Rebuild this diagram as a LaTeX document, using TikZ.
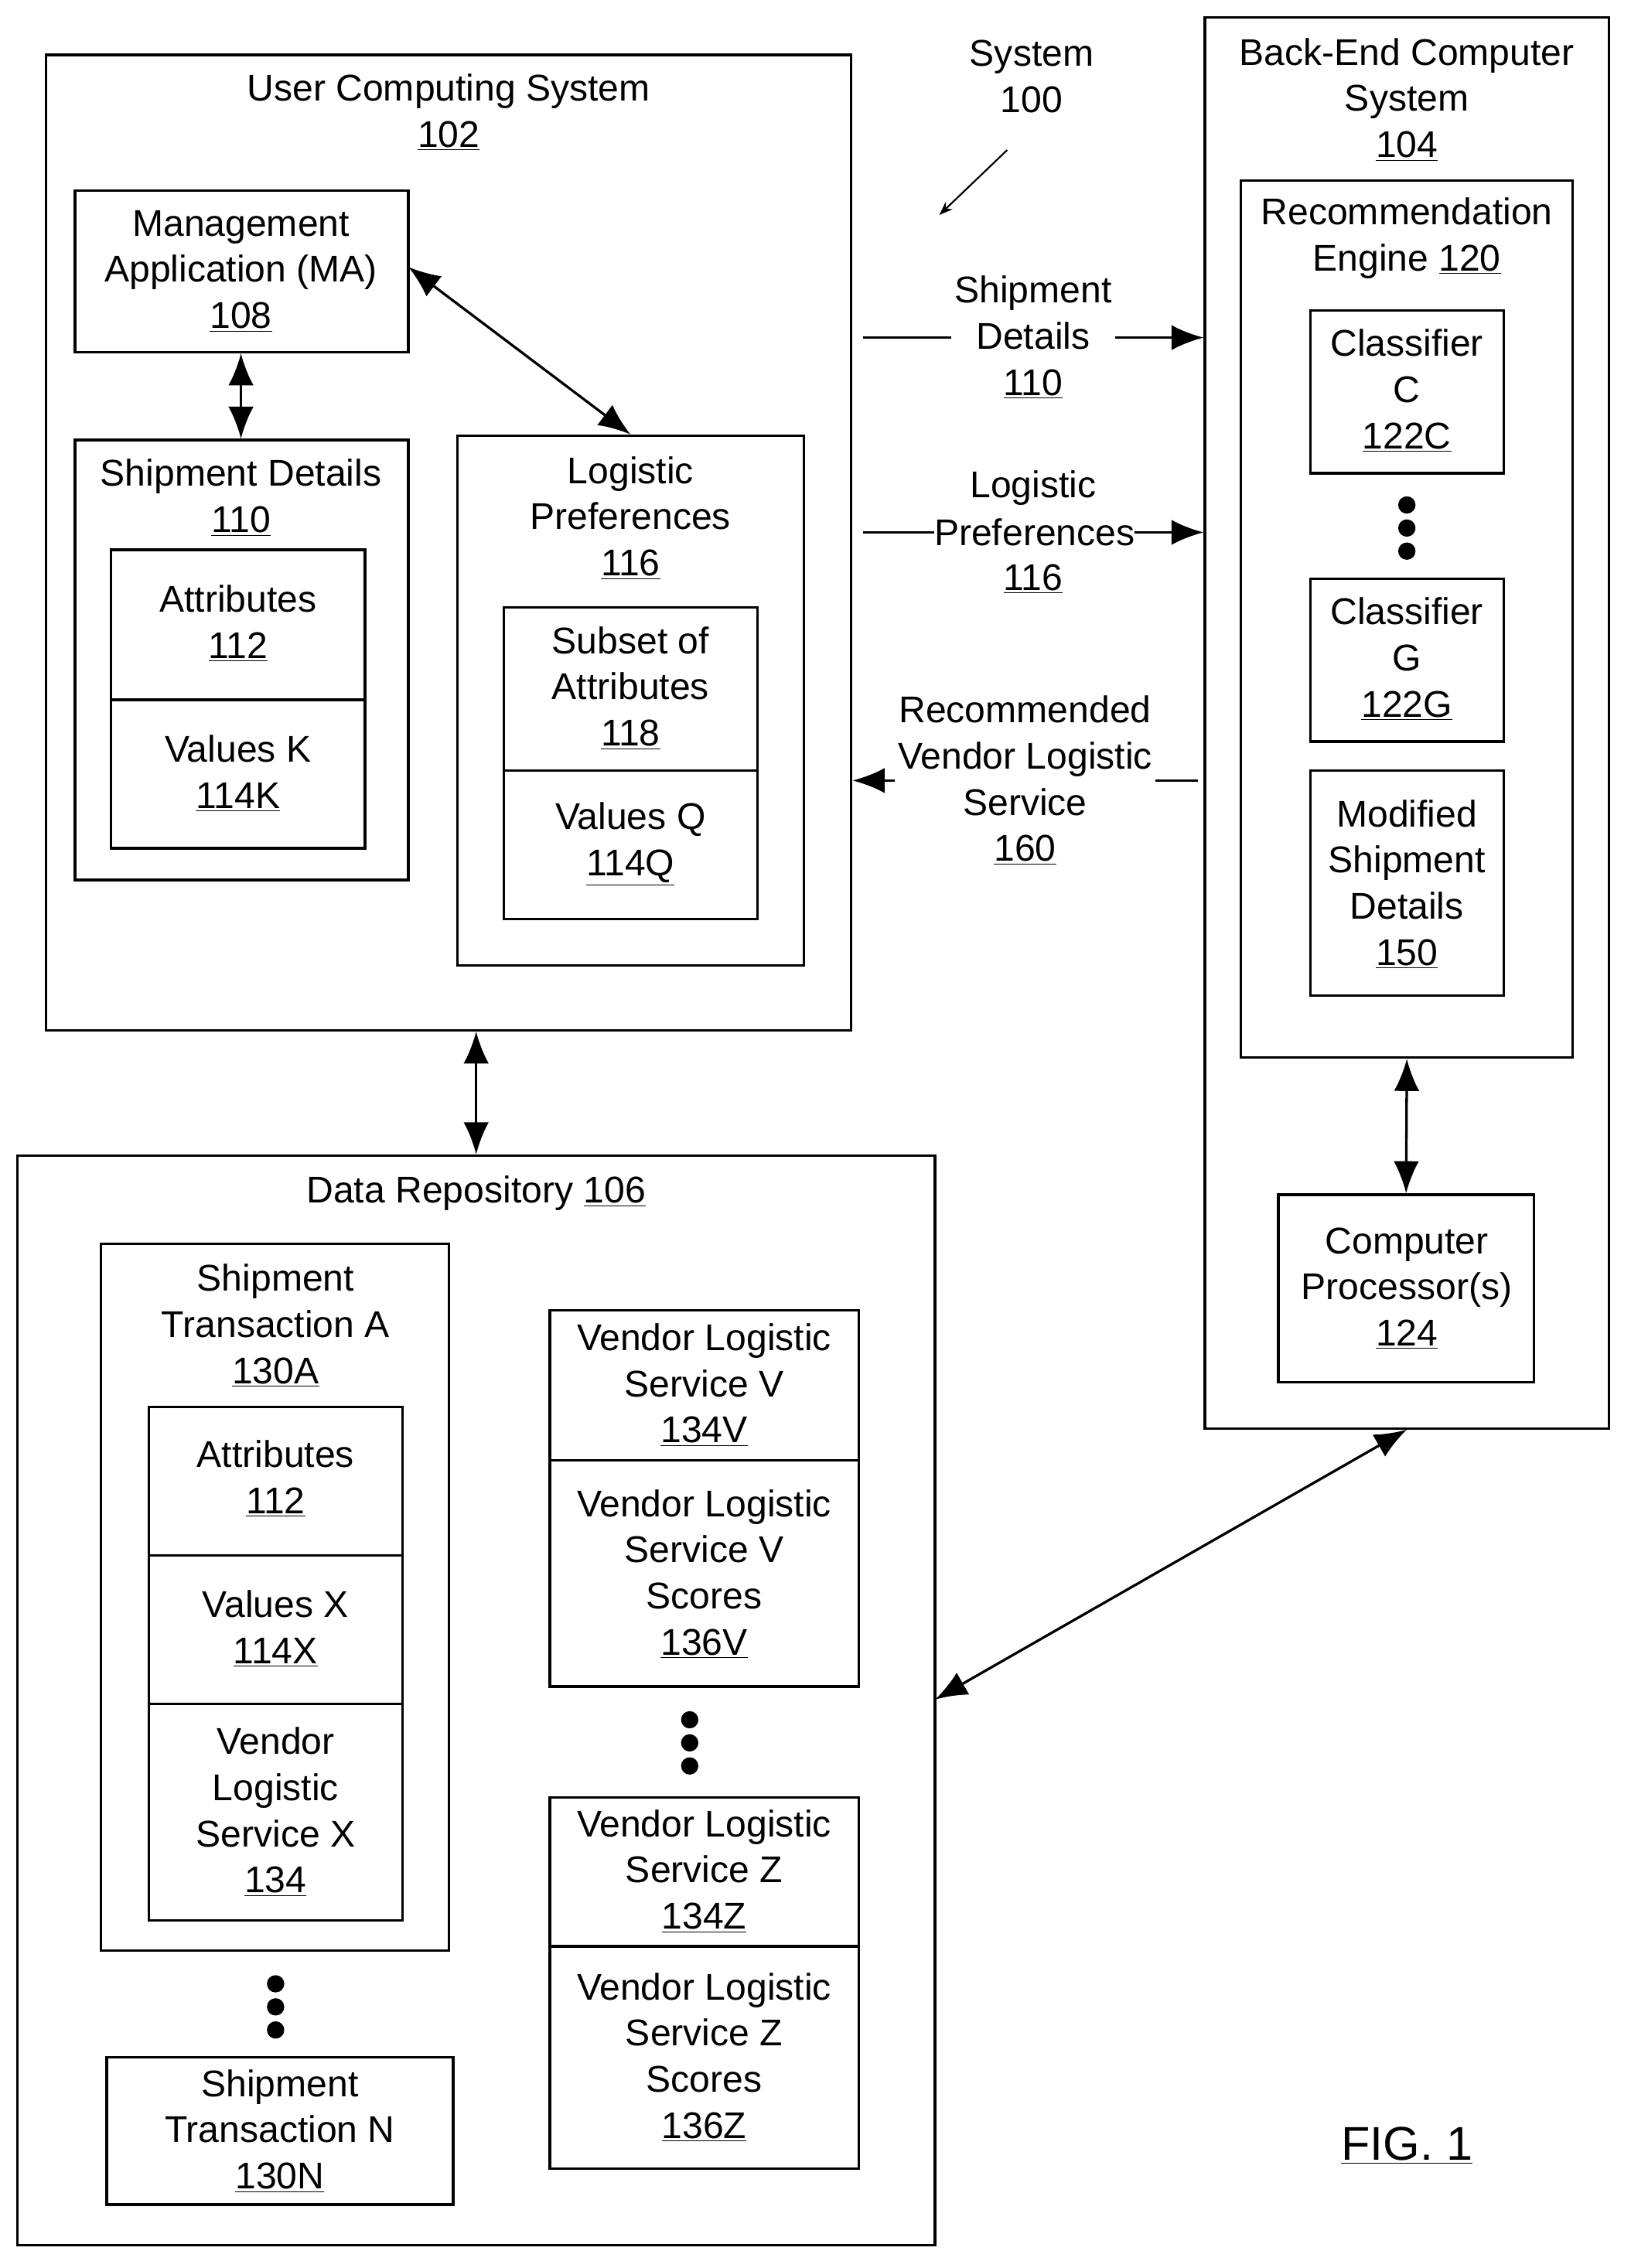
\documentclass[tikz,border=0pt]{standalone}
\usepackage{fontspec}
\setmainfont{Liberation Sans}
\usetikzlibrary{fit, arrows.meta}
\newcommand{\ul}[1]{\underline{#1}}

\begin{document}
\begin{tikzpicture}[x=0.03cm, y=-0.03cm, line width=1.5pt,
    box/.style={draw, inner sep=0pt},
    txt/.style={align=center, inner sep=1pt, font=\fontsize{22}{27.3}\selectfont},
    lbl/.style={txt, fill=white, inner sep=2pt},
    dot/.style={fill, circle, inner sep=0pt, minimum size=0.36cm},
    link/.style={{Latex[length=19pt,width=15pt]}-{Latex[length=19pt,width=15pt]}},
    flow/.style={-{Latex[length=19pt,width=15pt]}}]
    \useasboundingbox (0,0) rectangle (1130,1572);

    % User computing system
    \node[box, fit={(32,38) (590,714)}] (ucs) {};
    \node[txt] at (311,78) {User Computing System\\\ul{102}};
    \node[box, fit={(52,132) (283,244)}] (ma) {};
    \node[txt] at (167,188) {Management\\Application (MA)\\\ul{108}};
    \node[box, fit={(52,305) (283,610)}] (sd) {};
    \node[txt] at (167,345) {Shipment Details\\\ul{110}};
    \node[box, fit={(77,381) (253,485)}] (attr) {};
    \node[txt] at (165,432) {Attributes\\\ul{112}};
    \node[box, fit={(77,485) (253,588)}] (valk) {};
    \node[txt] at (165,536) {Values K\\\ul{114K}};
    \node[box, fit={(317,302) (557,669)}] (lp) {};
    \node[txt] at (437,359) {Logistic\\Preferences\\\ul{116}};
    \node[box, fit={(349,421) (525,534)}] (sub) {};
    \node[txt] at (437,477) {Subset of\\Attributes\\\ul{118}};
    \node[box, fit={(349,534) (525,637)}] (valq) {};
    \node[txt] at (437,585) {Values Q\\\ul{114Q}};

    % System label
    \node[txt] (sys) at (715,53) {System\\100};
    \coordinate (sysa) at (698,104);
    \coordinate (sysb) at (651,149);
    \draw[line width=1pt, -{Stealth[length=8pt]}] (sysa) -- (sysb);

    % Back-end computer system
    \node[box, fit={(835,12) (1115,990)}] (be) {};
    \node[txt] at (975,69) {Back-End Computer\\System\\\ul{104}};
    \node[box, fit={(860,125) (1090,733)}] (re) {};
    \node[txt] at (975,165) {Recommendation\\Engine \ul{120}};
    \node[box, fit={(908,215) (1042,328)}] (clc) {};
    \node[txt] at (975,271) {Classifier\\C\\\ul{122C}};
    \foreach \y in {350,366,382} \node[dot] at (975,\y) {};
    \node[box, fit={(908,401) (1042,514)}] (clg) {};
    \node[txt] at (975,457) {Classifier\\G\\\ul{122G}};
    \node[box, fit={(908,534) (1042,690)}] (msd) {};
    \node[txt] at (975,613) {Modified\\Shipment\\Details\\\ul{150}};
    \node[box, fit={(886,828) (1063,958)}] (cp) {};
    \node[txt] at (975,893) {Computer\\Processor(s)\\\ul{124}};

    % Data repository
    \node[box, fit={(12,801) (648,1556)}] (dr) {};
    \node[txt] at (330,827) {Data Repository \ul{106}};
    \node[box, fit={(70,862) (311,1352)}] (sta) {};
    \node[txt] at (191,919) {Shipment\\Transaction A\\\ul{130A}};
    \node[box, fit={(103,975) (279,1078)}] (attra) {};
    \node[txt] at (191,1025) {Attributes\\\ul{112}};
    \node[box, fit={(103,1078) (279,1181)}] (valx) {};
    \node[txt] at (191,1129) {Values X\\\ul{114X}};
    \node[box, fit={(103,1181) (279,1331)}] (vlsx) {};
    \node[txt] at (191,1256) {Vendor\\Logistic\\Service X\\\ul{134}};
    \foreach \y in {1375,1391,1407} \node[dot] at (191,\y) {};
    \node[box, fit={(74,1426) (314,1528)}] (stn) {};
    \node[txt] at (194,1477) {Shipment\\Transaction N\\\ul{130N}};
    \node[box, fit={(381,908) (595,1012)}] (vlsv) {};
    \node[txt] at (488,960) {Vendor Logistic\\Service V\\\ul{134V}};
    \node[box, fit={(381,1012) (595,1169)}] (scv) {};
    \node[txt] at (488,1091) {Vendor Logistic\\Service V\\Scores\\\ul{136V}};
    \foreach \y in {1192,1208,1224} \node[dot] at (478,\y) {};
    \node[box, fit={(381,1246) (595,1349)}] (vlsz) {};
    \node[txt] at (488,1297) {Vendor Logistic\\Service Z\\\ul{134Z}};
    \node[box, fit={(381,1349) (595,1503)}] (scz) {};
    \node[txt] at (488,1426) {Vendor Logistic\\Service Z\\Scores\\\ul{136Z}};

    \node[txt, font=\fontsize{28}{32}\selectfont] (fig) at (975,1487) {\ul{FIG. 1}};

    % Connectors
    \draw[link] (ma.south -| 167,0) -- (sd.north -| 167,0);
    \draw[link] (283,185) -- (lp.north);
    \draw[link] (ucs.south -| 330,0) -- (dr.north -| 330,0);
    \draw[link] (re.south) -- (cp.north);
    \draw[link] (be.south) -- (648,1178);

    \coordinate (sdout) at (598,234);
    \coordinate (lpout) at (598,369);
    \coordinate (recin) at (830,541);
    \draw[flow] (sdout) -- (be.west |- sdout)
        node[lbl, pos=0.5] {Shipment\\Details\\\ul{110}};
    \draw[flow] (lpout) -- (be.west |- lpout)
        node[lbl, pos=0.5, fill=none] {Logistic\\\phantom{Preferences}\\\ul{116}};
    \node[txt, fill=white, inner sep=0pt] at (717,369) {Preferences};
    \draw[flow] (recin) -- (ucs.east |- recin)
        node[lbl, pos=0.5] {Recommended\\Vendor Logistic\\Service\\\ul{160}};
\end{tikzpicture}
\end{document}
